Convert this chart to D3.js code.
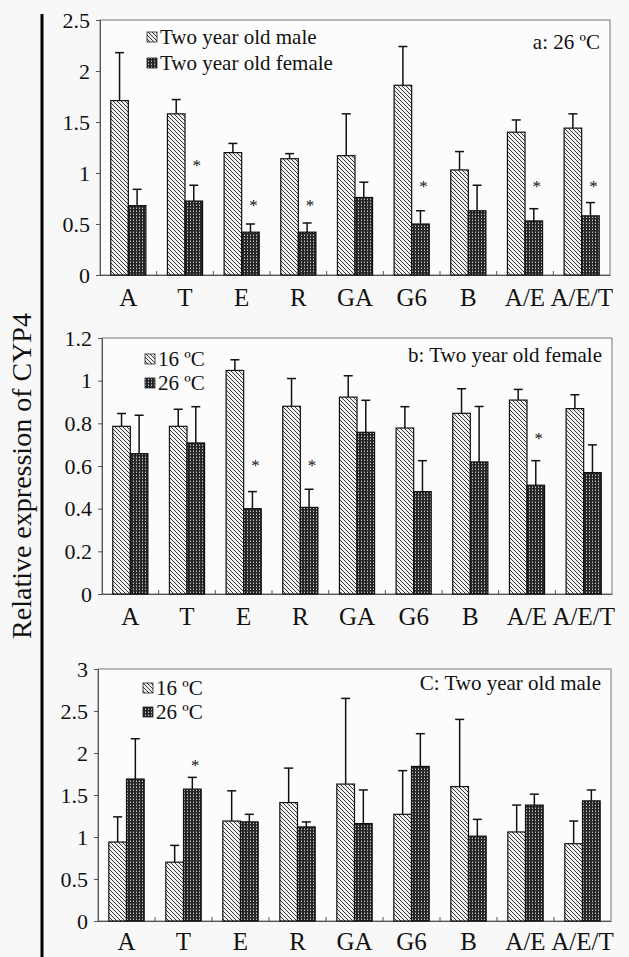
<!DOCTYPE html>
<html>
<head>
<meta charset="utf-8">
<script src="https://cdn.jsdelivr.net/npm/d3@7"></script>
<style>
    body { margin: 0; background: #f8f8f8; }
    svg text { font-family: "Liberation Serif", "Times New Roman", serif; fill: #111; }
</style>
</head>
<body>
<div id="chart"></div>
<script>

// categories shared by all three panels
let categories = ["A", "T", "E", "R", "GA", "G6", "B", "A/E", "A/E/T"];

// panel a: 26 ºC, male vs female (mean, sd)
let maleMean26 = [1.71, 1.58, 1.20, 1.14, 1.17, 1.86, 1.03, 1.40, 1.44];
let maleSd26 = [0.47, 0.14, 0.09, 0.05, 0.41, 0.38, 0.18, 0.12, 0.14];
let femaleMean26 = [0.68, 0.725, 0.42, 0.42, 0.76, 0.50, 0.63, 0.53, 0.58];
let femaleSd26 = [0.16, 0.155, 0.08, 0.09, 0.15, 0.13, 0.25, 0.12, 0.13];
let starsA = [["T", 1.11], ["E", 0.72], ["R", 0.72], ["G6", 0.905], ["A/E", 0.905], ["A/E/T", 0.905]];

// panel b: two year old female, 16 ºC vs 26 ºC
let femaleMean16b = [0.786, 0.786, 1.048, 0.88, 0.923, 0.778, 0.847, 0.909, 0.869];
let femaleSd16b = [0.06, 0.08, 0.05, 0.13, 0.10, 0.10, 0.115, 0.05, 0.065];
let femaleMean26b = [0.658, 0.708, 0.40, 0.406, 0.758, 0.48, 0.619, 0.51, 0.569];
let femaleSd26b = [0.18, 0.17, 0.08, 0.085, 0.15, 0.145, 0.26, 0.115, 0.13];
let starsB = [["E", 0.62], ["R", 0.62], ["A/E", 0.743]];

// panel c: two year old male, 16 ºC vs 26 ºC
let maleMean16c = [0.94, 0.70, 1.19, 1.41, 1.63, 1.27, 1.60, 1.06, 0.92];
let maleSd16c = [0.30, 0.20, 0.36, 0.41, 1.02, 0.52, 0.80, 0.32, 0.27];
let maleMean26c = [1.69, 1.57, 1.18, 1.12, 1.16, 1.84, 1.01, 1.38, 1.43];
let maleSd26c = [0.48, 0.14, 0.09, 0.06, 0.40, 0.39, 0.20, 0.13, 0.13];
let starsC = [["T", 1.89]];

let ticksA = [0, 0.5, 1, 1.5, 2, 2.5];
let ticksB = [0, 0.2, 0.4, 0.6, 0.8, 1, 1.2];
let ticksC = [0, 0.5, 1, 1.5, 2, 2.5, 3];

let svg = d3.select("#chart").append("svg")
    .attr("width", 629)
    .attr("height", 957);

// fill patterns: light hatch and dark grid
let defs = svg.append("defs");
let hatch = defs.append("pattern")
    .attr("id", "hatch")
    .attr("patternUnits", "userSpaceOnUse")
    .attr("width", 4).attr("height", 4);
hatch.append("rect").attr("width", 4).attr("height", 4).attr("fill", "#eeeeee");
hatch.append("path")
    .attr("d", "M0,0 L4,4 M-1,3 L1,5 M3,-1 L5,1")
    .attr("stroke", "#3a3a3a").attr("stroke-width", 1);

let grid = defs.append("pattern")
    .attr("id", "grid")
    .attr("patternUnits", "userSpaceOnUse")
    .attr("width", 3).attr("height", 3);
grid.append("rect").attr("width", 3).attr("height", 3).attr("fill", "#262626");
grid.append("rect").attr("x", 1).attr("y", 1).attr("width", 1).attr("height", 1).attr("fill", "#c4c4c4");
grid.append("rect").attr("x", 1).attr("y", 0).attr("width", 1).attr("height", 1).attr("fill", "#6a6a6a");

class GroupedBarVis {

    constructor(box, series, yMax, ticks, legend, title, stars) {
        this.box = box;
        this.series = series;
        this.yMax = yMax;
        this.ticks = ticks;
        this.legend = legend;
        this.title = title;
        this.stars = stars;
        this.initVis();
    }

    initVis() {
        let vis = this;
        let b = vis.box;

        vis.g = svg.append("g");

        vis.x = d3.scaleBand()
            .domain(categories)
            .range([b.left, b.right])
            .paddingInner(0.38)
            .paddingOuter(0.19);

        vis.x1 = d3.scaleBand()
            .domain([0, 1])
            .range([0, vis.x.bandwidth()]);

        vis.y = d3.scaleLinear()
            .domain([0, vis.yMax])
            .range([b.bottom, b.top]);

        // frame
        vis.g.append("rect")
            .attr("x", b.left).attr("y", b.top)
            .attr("width", b.right - b.left).attr("height", b.bottom - b.top)
            .attr("fill", "#fcfcfc")
            .attr("stroke", "#777").attr("stroke-width", 1);

        // y axis
        let yAxis = d3.axisLeft(vis.y)
            .tickValues(vis.ticks)
            .tickSize(4)
            .tickPadding(6)
            .tickFormat(d => String(+d.toFixed(1)));
        let ya = vis.g.append("g")
            .attr("transform", "translate(" + b.left + ",0)")
            .call(yAxis);
        ya.select(".domain").attr("stroke", "#555");
        ya.selectAll(".tick line").attr("stroke", "#555");
        ya.selectAll("text")
            .style("font-size", "22px")
            .style("font-family", "Liberation Serif, serif")
            .attr("fill", "#111");

        // x axis labels
        let xAxis = d3.axisBottom(vis.x).tickSize(0).tickPadding(b.labelPad);
        let xa = vis.g.append("g")
            .attr("transform", "translate(0," + b.bottom + ")")
            .call(xAxis);
        xa.select(".domain").attr("stroke", "#555");
        xa.selectAll("text")
            .style("font-size", "25px")
            .style("font-family", "Liberation Serif, serif")
            .attr("fill", "#111");

        // small ticks between groups
        let step = vis.x.step();
        vis.g.selectAll(".sep")
            .data(categories.slice(1))
            .enter().append("line")
            .attr("x1", d => vis.x(d) - (step - vis.x.bandwidth()) / 2)
            .attr("x2", d => vis.x(d) - (step - vis.x.bandwidth()) / 2)
            .attr("y1", b.bottom)
            .attr("y2", b.bottom - 4)
            .attr("stroke", "#555");

        vis.updateVis();
    }

    updateVis() {
        let vis = this;
        let fills = ["url(#hatch)", "url(#grid)"];

        vis.series.forEach(function (s, si) {
            let rows = categories.map((c, i) => ({ cat: c, mean: s.mean[i], sd: s.sd[i] }));
            let cx = d => vis.x(d.cat) + vis.x1(si) + vis.x1.bandwidth() / 2;

            // error bars (upper only)
            vis.g.selectAll(".err" + si)
                .data(rows)
                .enter().append("line")
                .attr("x1", cx).attr("x2", cx)
                .attr("y1", d => vis.y(d.mean))
                .attr("y2", d => vis.y(d.mean + d.sd))
                .attr("stroke", "#111").attr("stroke-width", 1.5);

            vis.g.selectAll(".cap" + si)
                .data(rows)
                .enter().append("line")
                .attr("x1", d => cx(d) - 4.5).attr("x2", d => cx(d) + 4.5)
                .attr("y1", d => vis.y(d.mean + d.sd))
                .attr("y2", d => vis.y(d.mean + d.sd))
                .attr("stroke", "#111").attr("stroke-width", 1.5);

            vis.g.selectAll(".bar" + si)
                .data(rows)
                .enter().append("rect")
                .attr("x", d => vis.x(d.cat) + vis.x1(si))
                .attr("y", d => vis.y(d.mean))
                .attr("width", vis.x1.bandwidth())
                .attr("height", d => vis.y(0) - vis.y(d.mean))
                .attr("fill", fills[si])
                .attr("stroke", "#111").attr("stroke-width", 1.2);
        });

        // significance stars over the second series
        vis.g.selectAll(".star")
            .data(vis.stars)
            .enter().append("text")
            .attr("x", d => vis.x(d[0]) + vis.x1(1) + vis.x1.bandwidth() / 2 + 3)
            .attr("y", d => vis.y(d[1]) + 9)
            .attr("text-anchor", "middle")
            .style("font-size", "17px")
            .style("fill", "#111")
            .text("*");

        // legend
        let b = vis.box;
        vis.legend.forEach(function (label, i) {
            let cy = b.legendY + i * b.legendGap;
            vis.g.append("rect")
                .attr("x", b.legendX).attr("y", cy - 5)
                .attr("width", 10).attr("height", 10)
                .attr("fill", fills[i])
                .attr("stroke", "#222").attr("stroke-width", 0.8);
            vis.g.append("text")
                .attr("x", b.legendX + 13)
                .attr("y", cy + 7)
                .style("font-size", "21px")
                .text(label);
        });

        // panel title
        vis.g.append("text")
            .attr("x", b.right - 10)
            .attr("y", b.titleY)
            .attr("text-anchor", "end")
            .style("font-size", "21px")
            .text(vis.title);
    }
}

new GroupedBarVis(
    { left: 100, right: 610, top: 20, bottom: 275, labelPad: 13, legendX: 147, legendY: 37, legendGap: 26, titleY: 49 },
    [{ mean: maleMean26, sd: maleSd26 }, { mean: femaleMean26, sd: femaleSd26 }],
    2.5, ticksA, ["Two year old male", "Two year old female"], "a: 26 ºC", starsA);

new GroupedBarVis(
    { left: 102, right: 612, top: 338, bottom: 594, labelPad: 13, legendX: 145, legendY: 359, legendGap: 24, titleY: 362 },
    [{ mean: femaleMean16b, sd: femaleSd16b }, { mean: femaleMean26b, sd: femaleSd26b }],
    1.2, ticksB, ["16 ºC", "26 ºC"], "b: Two year old female", starsB);

new GroupedBarVis(
    { left: 98, right: 611, top: 669, bottom: 921, labelPad: 11, legendX: 143, legendY: 688, legendGap: 24, titleY: 690 },
    [{ mean: maleMean16c, sd: maleSd16c }, { mean: maleMean26c, sd: maleSd26c }],
    3, ticksC, ["16 ºC", "26 ºC"], "C: Two year old male", starsC);

// shared y title and the thick vertical rule
svg.append("line")
    .attr("x1", 42).attr("x2", 42)
    .attr("y1", 14).attr("y2", 957)
    .attr("stroke", "#000").attr("stroke-width", 3);

svg.append("text")
    .attr("transform", "translate(31,476) rotate(-90)")
    .attr("text-anchor", "middle")
    .style("font-size", "28px")
    .text("Relative expression of CYP4");

</script>
</body>
</html>
